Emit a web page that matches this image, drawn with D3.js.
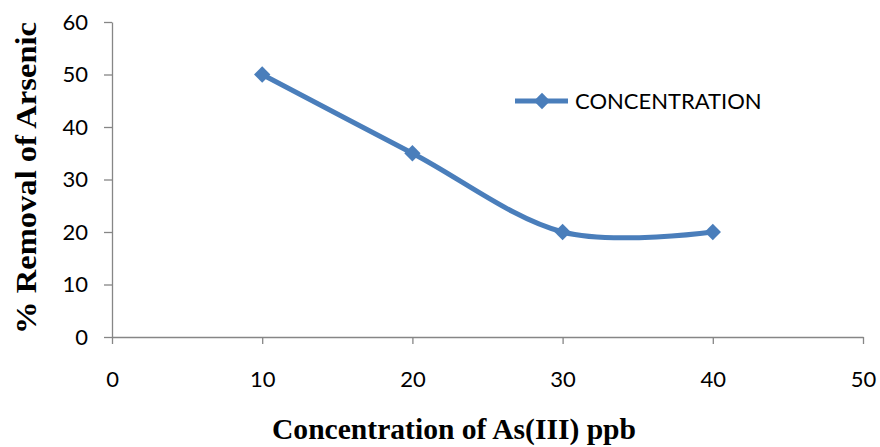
<!DOCTYPE html>
<html>
<head>
<meta charset="utf-8">
<script src="https://cdn.jsdelivr.net/npm/d3@7"></script>
<style>
  html, body { margin: 0; padding: 0; background: #fff; }
  svg { display: block; }
</style>
</head>
<body>
<svg id="chart" width="880" height="447"></svg>
<script>
// Arsenic removal vs. initial As(III) concentration
const concentration = [10, 20, 30, 40];
const removal = [50, 35, 20, 20];
const xTicks = [0, 10, 20, 30, 40, 50];
const yTicks = [0, 10, 20, 30, 40, 50, 60];
const seriesName = "CONCENTRATION";

const svg = d3.select("#chart");
const plotLeft = 112, plotRight = 863, plotTop = 22, plotBottom = 337;
const lineColor = "#4a7ebb";
const axisColor = "#868686";
const tickFont = "Lato, 'Open Sans', sans-serif";
const titleFont = "'Liberation Serif', 'Times New Roman', serif";

const x = d3.scaleLinear().domain([0, 50]).range([plotLeft, plotRight]);
const y = d3.scaleLinear().domain([0, 60]).range([plotBottom, plotTop]);

// y axis
const yAxis = svg.append("g")
  .attr("transform", `translate(${plotLeft},0)`)
  .call(d3.axisLeft(y).tickValues(yTicks).tickSize(8).tickSizeOuter(0).tickPadding(16));
yAxis.select(".domain").attr("stroke", axisColor).attr("stroke-width", 1.3);
yAxis.selectAll(".tick line").attr("stroke", axisColor).attr("stroke-width", 1.3);
yAxis.selectAll(".tick text")
  .attr("font-family", tickFont).attr("font-size", 22).attr("fill", "#000");

// x axis
const xAxis = svg.append("g")
  .attr("transform", `translate(0,${plotBottom})`)
  .call(d3.axisBottom(x).tickValues(xTicks).tickSize(7).tickSizeOuter(0).tickPadding(27));
xAxis.select(".domain").attr("stroke", axisColor).attr("stroke-width", 1.3);
xAxis.selectAll(".tick line").attr("stroke", axisColor).attr("stroke-width", 1.3);
xAxis.selectAll(".tick text")
  .attr("font-family", tickFont).attr("font-size", 22).attr("fill", "#000");

// axis titles
svg.append("text")
  .attr("x", 272).attr("y", 439)
  .attr("textLength", 364).attr("lengthAdjust", "spacingAndGlyphs")
  .attr("font-family", titleFont)
  .attr("font-weight", "bold").attr("font-size", 30)
  .text("Concentration of As(III) ppb");

svg.append("text")
  .attr("transform", "translate(36,334) rotate(-90)")
  .attr("textLength", 312).attr("lengthAdjust", "spacingAndGlyphs")
  .attr("font-family", titleFont)
  .attr("font-weight", "bold").attr("font-size", 30)
  .text("% Removal of Arsenic");

// smoothed series line
const pts = concentration.map((c, i) => [c, removal[i]]);
const line = d3.line()
  .x(d => x(d[0])).y(d => y(d[1]))
  .curve(d3.curveCatmullRom.alpha(0));
svg.append("path")
  .datum(pts)
  .attr("d", line)
  .attr("fill", "none")
  .attr("stroke", lineColor)
  .attr("stroke-width", 5)
  .attr("stroke-linejoin", "round");

// diamond markers
const diamond = d3.symbol().type(d3.symbolDiamond2).size(170);
svg.selectAll(".marker")
  .data(pts)
  .join("path")
  .attr("class", "marker")
  .attr("d", diamond)
  .attr("transform", d => `translate(${x(d[0])},${y(d[1])})`)
  .attr("fill", lineColor);

// legend
const lg = svg.append("g").attr("transform", "translate(515,101)");
lg.append("line").attr("x1", 0).attr("x2", 53).attr("y1", 0).attr("y2", 0)
  .attr("stroke", lineColor).attr("stroke-width", 5);
lg.append("path").attr("d", diamond).attr("transform", "translate(27,0)").attr("fill", lineColor);
lg.append("text").attr("x", 60).attr("y", 8)
  .attr("font-family", tickFont).attr("font-size", 22).attr("fill", "#000")
  .text(seriesName);
</script>
</body>
</html>
